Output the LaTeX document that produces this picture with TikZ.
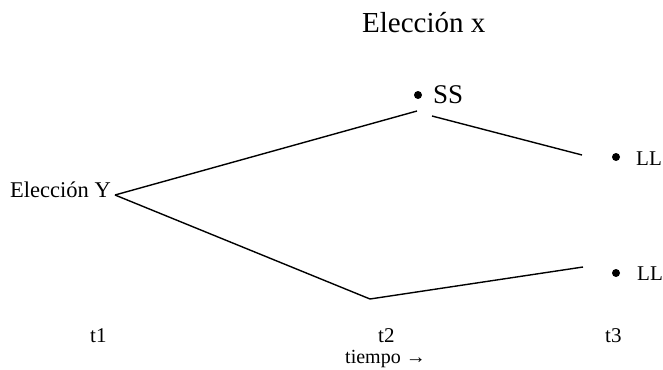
\documentclass[tikz,border=0pt]{standalone}
\usepackage{fontspec}
\setmainfont{Liberation Serif}
\begin{document}
\begin{tikzpicture}[x=1pt,y=-1pt,
  lbl/.style={inner sep=0pt, anchor=base west, font=\fontsize{21}{25}\selectfont},
  big/.style={inner sep=0pt, anchor=base west, font=\fontsize{27}{32}\selectfont},
  pt/.style={circle, fill=black, inner sep=0pt, minimum size=8pt},
  branch/.style={draw=black, line width=1.4pt, line join=round}]
\useasboundingbox (0,0) rectangle (663,369);
% texts
\node[big, font=\fontsize{29}{34}\selectfont] (title) at (362,33) {Elección x};
\node[lbl, font=\fontsize{22.5}{27}\selectfont] (ey) at (10,197) {Elección Y};
\node[pt] (dss) at (418,95) {};
\node[big] (ss) at (433,103) {SS};
\node[pt] (dll1) at (616,157) {};
\node[lbl] (ll1) at (636,165) {LL};
\node[pt] (dll2) at (616,273) {};
\node[lbl] (ll2) at (637,280) {LL};
\node[lbl] (t1) at (90,342) {t1};
\node[lbl] (t2) at (378,342) {t2};
\node[lbl] (t3) at (605,342) {t3};
\node[lbl, font=\fontsize{20}{24}\selectfont] (tiempo) at (345,363) {tiempo →};
% branch points
\coordinate (vy) at (115,195);
\coordinate (ssin) at (417,111);
\coordinate (ssout) at (432,116);
\coordinate (e1) at (582,155);
\coordinate (low) at (370,299);
\coordinate (e2) at (583,267);
\draw[branch] (vy) -- (ssin);
\draw[branch] (ssout) -- (e1);
\draw[branch] (vy) -- (low) -- (e2);
\end{tikzpicture}
\end{document}
